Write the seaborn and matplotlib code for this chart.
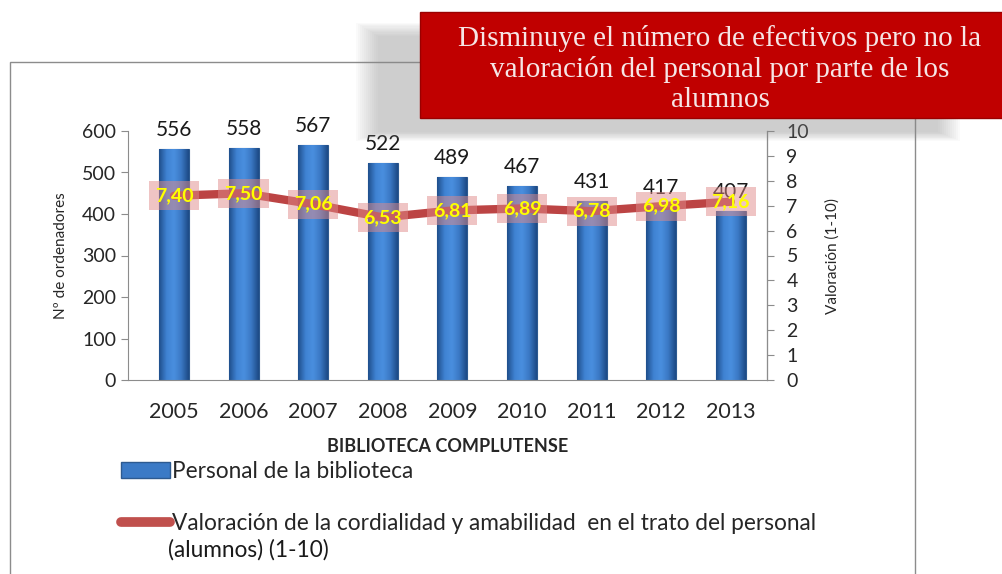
import numpy as np
import pandas as pd
import matplotlib
matplotlib.use('Agg')
import matplotlib.pyplot as plt
import seaborn as sns
from matplotlib.patches import Rectangle, Patch
from matplotlib.lines import Line2D
from matplotlib.colors import LinearSegmentedColormap

sns.set_style('white')
plt.rcParams['font.family'] = ['Lato', 'DejaVu Sans']

years = ['2005', '2006', '2007', '2008', '2009', '2010', '2011', '2012', '2013']
personal = [556, 558, 567, 522, 489, 467, 431, 417, 407]
valoracion = [7.40, 7.50, 7.06, 6.53, 6.81, 6.89, 6.78, 6.98, 7.16]
bar_label = 'Personal de la biblioteca'
line_label = 'Valoración de la cordialidad y amabilidad  en el trato del personal'
line_label2 = '(alumnos) (1-10)'
title = ('Disminuye el número de efectivos pero no la\n'
         'valoración del personal por parte de los\nalumnos')

df = pd.DataFrame({'year': years, 'personal': personal, 'valoracion': valoracion})

W, H = 1002, 574
fig = plt.figure(figsize=(W / 100, H / 100), dpi=100)

# outer chart border
fig.patches.append(Rectangle((10 / W, -0.05), 905 / W, 1.05 - 62 / H, transform=fig.transFigure,
                             fill=False, edgecolor='#8c8c8c', linewidth=1))

ax = fig.add_axes([128 / W, 1 - 380 / H, 639 / W, 249 / H])
sns.barplot(data=df, x='year', y='personal', color='#3b7ac6', edgecolor='#2d5a90',
            linewidth=0.8, width=0.43, saturation=1, ax=ax)

# cylinder-like shading on the bars
shade = LinearSegmentedColormap.from_list('shade', ['#1f4f8c', '#3f82d2', '#4a8fdf', '#3a78c4', '#1d4a85'])
grad = np.linspace(0, 1, 64).reshape(1, -1)
for p in ax.patches:
    x0, y0 = p.get_x(), p.get_y()
    im = ax.imshow(grad, cmap=shade, aspect='auto', extent=(x0, x0 + p.get_width(), y0, y0 + p.get_height()),
                   zorder=p.get_zorder() + 0.1, interpolation='bicubic')
    im.set_clip_path(p)
ax.set_xlim(-0.66, 8.52)
ax.set_ylim(0, 600)
ax.set_yticks(range(0, 601, 100))

for i, v in enumerate(personal):
    ax.text(i, v + 22, str(v), ha='center', va='bottom', fontsize=15, color='#1a1a1a')
ax.set_xlabel('BIBLIOTECA COMPLUTENSE', fontsize=13, fontweight='bold', labelpad=11)
ax.set_ylabel('Nº de ordenadores', fontsize=11, labelpad=10)
ax.tick_params(axis='y', labelsize=14, length=5, color='#8c8c8c', direction='out')
ax.set_xticks(range(len(years)))
ax.set_xticklabels(years)
ax.tick_params(axis='x', labelsize=15.5, length=0, pad=16)
ax.set_xticks(np.arange(0.5, 8, 1), minor=True)
ax.tick_params(axis='x', which='minor', length=5, color='#8c8c8c', direction='out')
for s in ['left', 'bottom']:
    ax.spines[s].set_color('#8c8c8c')
ax.spines['top'].set_visible(False)

ax2 = ax.twinx()
sns.lineplot(data=df, x='year', y='valoracion', color='#b52f2f', linewidth=6, alpha=0.9,
             ax=ax2, sort=False)
ax2.set_xlim(-0.66, 8.52)
ax2.set_ylim(0, 10)
ax2.set_yticks(range(0, 11))
ax2.set_ylabel('Valoración (1-10)', fontsize=11, labelpad=12)
ax2.tick_params(axis='y', labelsize=14, length=5, pad=9, color='#8c8c8c', direction='out')
ax2.spines['right'].set_color('#8c8c8c')
ax2.spines['top'].set_visible(False)
ax2.spines['left'].set_visible(False)
ax2.spines['bottom'].set_visible(False)
for i, v in enumerate(valoracion):
    ax2.text(i, v, f'{v:.2f}'.replace('.', ','), ha='center', va='center', fontsize=14,
             fontweight='bold', color='#ffff00',
             bbox=dict(boxstyle='square,pad=0.3', facecolor='#e08a8a', alpha=0.5,
                       edgecolor='none'))

handles = [Patch(facecolor='#3b7ac6', edgecolor='#2d5a90'),
           Line2D([0], [0], color='#c0504d', linewidth=7, solid_capstyle='round')]
fig.legend(handles, [bar_label, line_label], loc='upper left',
           bbox_to_anchor=(112 / W, 1 - 452 / H), frameon=False, fontsize=16.3,
           handlelength=2.15, handletextpad=0.1, labelspacing=1.35, borderaxespad=0)
fig.text(168 / W, 1 - 550 / H, line_label2, ha='left', va='center', fontsize=16.3, color='#1a1a1a')

# title box with soft shadow
for k in range(12):
    grow = 22 - 2 * k
    fig.patches.append(Rectangle(((378 - grow) / W, 1 - (132 + grow * 0.4) / H), (560 + 2 * grow) / W,
                                 (96 + grow) / H, transform=fig.transFigure,
                                 facecolor='#8a8a8a', alpha=0.04, edgecolor='none', zorder=5))
fig.patches.append(Rectangle((420 / W, 1 - 118 / H), 590 / W, 106 / H, transform=fig.transFigure,
                             facecolor='#c00000', edgecolor='#9a0000', zorder=6))
fig.text(720 / W, 1 - 69 / H, title, ha='center', va='center', fontsize=21,
         family='Liberation Serif', color='#f6e6e6', linespacing=1.2, zorder=7)

fig.savefig('out.png', dpi=100)
